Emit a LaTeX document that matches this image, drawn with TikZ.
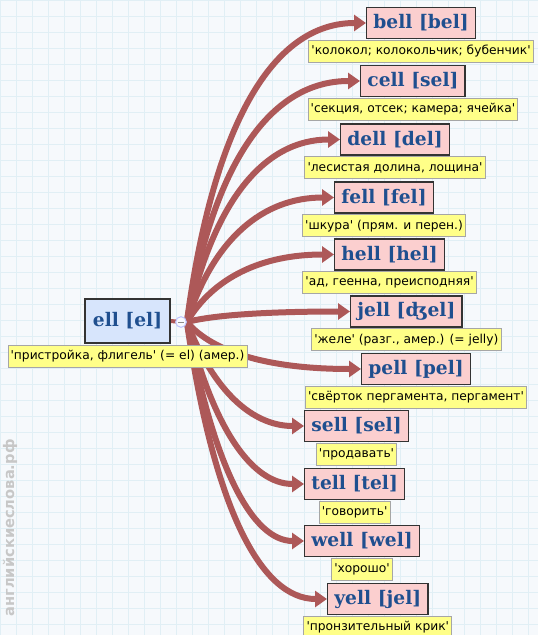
\documentclass[tikz,border=0pt]{standalone}
\usepackage{fontspec}
\setmainfont{DejaVu Sans}[Ligatures=TeXOff]
\newfontfamily\wordfont{DejaVu Serif}
\usetikzlibrary{arrows.meta,positioning,calc,backgrounds}
\definecolor{linkred}{HTML}{AD5858}
\definecolor{wordblue}{HTML}{1F4F8F}
\definecolor{wordpink}{HTML}{FBCFCF}
\definecolor{rootblue}{HTML}{D7E5FC}
\definecolor{noteyellow}{HTML}{FFFF88}
\definecolor{gridblue}{HTML}{E1EFF5}
\definecolor{paper}{HTML}{F6F9FC}
\tikzset{
  word/.style={draw=black!80, line width=1.1pt, fill=wordpink, text=wordblue, font=\wordfont\bfseries\fontsize{14}{16}\selectfont, minimum height=23pt, inner xsep=5pt, inner ysep=0pt},
  root/.style={word, fill=rootblue, minimum height=33pt, inner xsep=6pt},
  note/.style={draw=black!35, line width=0.6pt, fill=noteyellow, font=\fontsize{9.2}{11}\selectfont, inner xsep=2pt, inner ysep=2.5pt, minimum height=16.5pt},
  link/.style={draw=linkred, line width=4.5pt, -{Triangle[length=9pt,width=12pt]}},
  hubdot/.style={circle, draw=rootblue!70!blue!60, fill=rootblue!90!blue!10, line width=0.8pt, minimum size=8pt, inner sep=0pt},
  site/.style={rotate=90, text=black!22, font=\bfseries\fontsize{11}{13}\selectfont}
}
\begin{document}
\begin{tikzpicture}[x=0.75pt, y=-0.75pt]
  \useasboundingbox (0,0) rectangle (538,635);
  \begin{scope}[on background layer]
    \fill[paper] (0,0) rectangle (538,635);
    \draw[gridblue, line width=0.5pt, step=12pt] (0,0) grid (538,635);
  \end{scope}

  % root word
  \node[root] (ell) at (127.5,321) {ell [el]};
  \node[note, below=0.6pt of ell] (ellnote) {'пристройка, флигель' (= el) (амер.)};
  \node[hubdot] (hub) at (181,322) {};
  \draw[black!45, line width=0.6pt] ([xshift=-2pt]hub.center) -- ([xshift=2pt]hub.center);

  % rhyming words
  \node[word, anchor=west] (bell) at (366,23) {bell [bel]};
  \node[note, below=0.6pt of bell] (bellnote) {'колокол; колокольчик; бубенчик'};
  \node[word, anchor=west] (cell) at (360,81) {cell [sel]};
  \node[note, below=0.6pt of cell] (cellnote) {'секция, отсек; камера; ячейка'};
  \node[word, anchor=west] (dell) at (340,139.5) {dell [del]};
  \node[note, below=0.6pt of dell] (dellnote) {'лесистая долина, лощина'};
  \node[word, anchor=west] (fell) at (334,197.5) {fell [fel]};
  \node[note, below=0.6pt of fell] (fellnote) {'шкура' (прям. и перен.)};
  \node[word, anchor=west] (hell) at (334,254.5) {hell [hel]};
  \node[note, below=0.6pt of hell] (hellnote) {'ад, геенна, преисподняя'};
  \node[word, anchor=west] (jell) at (350,311.5) {jell [ʤel]};
  \node[note, below=0.6pt of jell] (jellnote) {'желе' (разг., амер.) (= jelly)};
  \node[word, anchor=west] (pell) at (361,369) {pell [pel]};
  \node[note, below=0.6pt of pell] (pellnote) {'свёрток пергамента, пергамент'};
  \node[word, anchor=west] (sell) at (304,426) {sell [sel]};
  \node[note, below=0.6pt of sell] (sellnote) {'продавать'};
  \node[word, anchor=west] (tell) at (304,484) {tell [tel]};
  \node[note, below=0.6pt of tell] (tellnote) {'говорить'};
  \node[word, anchor=west] (well) at (304,541) {well [wel]};
  \node[note, below=0.6pt of well] (wellnote) {'хорошо'};
  \node[word, anchor=west] (yell) at (327,599) {yell [jel]};
  \node[note, below=0.6pt of yell] (yellnote) {'пронзительный крик'};

  \node[site] (sitename) at (10,528) {английскиеслова.рф};

  % links
  \begin{scope}[on background layer]
    \draw[linkred, line width=3pt] (ell.east) -- (hub.center);
    \foreach \w in {bell,cell,dell,fell,hell,jell,pell,sell,tell,well,yell}{
      \coordinate (bend) at ($(hub.east |- \w.west)+(40,0)$);
      \draw[link] (hub.east) .. controls ($(hub.east)!2/3!(bend)$) and ($(\w.west)!2/3!(bend)$) .. (\w.west);
    }
  \end{scope}
\end{tikzpicture}
\end{document}
